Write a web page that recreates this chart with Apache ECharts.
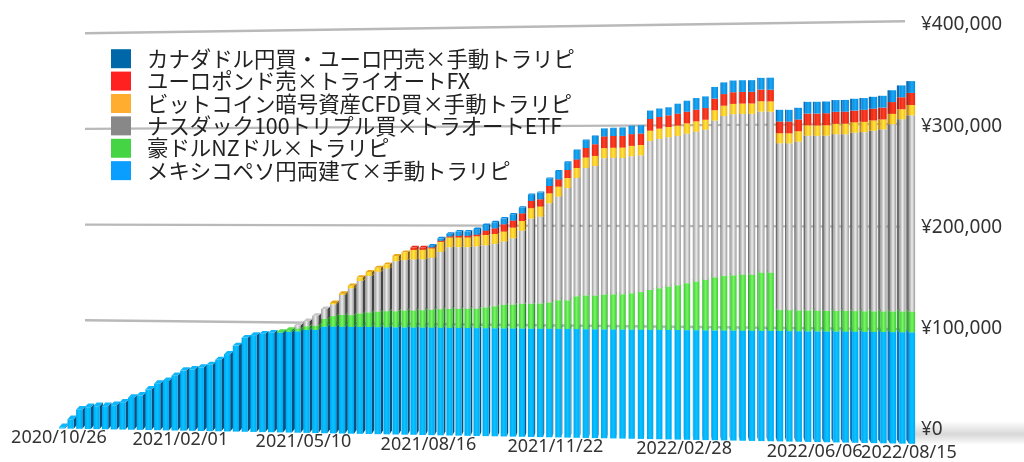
<!DOCTYPE html>
<html><head><meta charset="utf-8">
<style>html,body{margin:0;padding:0;background:#fff}#c{width:1024px;height:462px}</style>
<script src="https://cdn.jsdelivr.net/npm/echarts@6/dist/echarts.min.js"></script>
</head><body><div id="c"></div>
<script>
const categories = [
'2020/10/26','2020/11/02','2020/11/09','2020/11/16','2020/11/23','2020/11/30','2020/12/07','2020/12/14','2020/12/21','2020/12/28',
'2021/01/04','2021/01/11','2021/01/18','2021/01/25','2021/02/01','2021/02/08','2021/02/15','2021/02/22','2021/03/01','2021/03/08',
'2021/03/15','2021/03/22','2021/03/29','2021/04/05','2021/04/12','2021/04/19','2021/04/26','2021/05/03','2021/05/10','2021/05/17',
'2021/05/24','2021/05/31','2021/06/07','2021/06/14','2021/06/21','2021/06/28','2021/07/05','2021/07/12','2021/07/19','2021/07/26',
'2021/08/02','2021/08/09','2021/08/16','2021/08/23','2021/08/30','2021/09/06','2021/09/13','2021/09/20','2021/09/27','2021/10/04',
'2021/10/11','2021/10/18','2021/10/25','2021/11/01','2021/11/08','2021/11/15','2021/11/22','2021/11/29','2021/12/06','2021/12/13',
'2021/12/20','2021/12/27','2022/01/03','2022/01/10','2022/01/17','2022/01/24','2022/01/31','2022/02/07','2022/02/14','2022/02/21',
'2022/02/28','2022/03/07','2022/03/14','2022/03/21','2022/03/28','2022/04/04','2022/04/11','2022/04/18','2022/04/25','2022/05/02',
'2022/05/09','2022/05/16','2022/05/23','2022/05/30','2022/06/06','2022/06/13','2022/06/20','2022/06/27','2022/07/04','2022/07/11',
'2022/07/18','2022/07/25','2022/08/01','2022/08/08','2022/08/15'];
const tickDates = ['2020/10/26','2021/02/01','2021/05/10','2021/08/16','2021/11/22','2022/02/28','2022/06/06','2022/08/15'];
const yTicks = [100000,200000,300000,400000];
const mexico = [
1000,9500,19300,21900,23000,23200,24300,27100,32000,34500,
40600,46600,49500,54900,60100,61500,63400,66200,71400,77100,
85700,93500,96300,97800,98800,99000,100000,100500,102000,102200,
105500,105500,105500,105500,105500,105500,105500,105500,105500,105500,
105500,105500,105500,105500,105500,105500,105500,105500,105500,105500,
105500,105500,105500,105500,105500,105500,105500,105500,105500,105500,
105500,105500,105500,105500,105500,105500,105500,105500,105500,105500,
105500,105500,105500,105500,105500,105500,105500,105500,105500,105500,
105500,105500,105500,105500,105500,105500,105500,105500,105500,105500,
105500,105500,105500,105500,105500];
const audNzd = [
0,0,0,0,0,0,0,0,0,0,
0,0,0,0,0,0,0,0,0,0,
0,0,0,0,0,600,1700,2700,3700,4000,
7500,10500,11600,11600,13300,14300,15100,15800,15800,16600,
16700,17100,17500,18200,18450,18600,18750,18900,20300,21450,
22800,23200,23900,24000,24400,25400,27800,27800,31800,32500,
32500,33600,33900,34100,35100,36300,38400,40100,41600,43100,
45100,46700,48300,51000,52200,53000,53600,53700,55600,55600,
20000,20000,19800,19700,19700,19500,19600,19600,19600,19500,
19500,19500,19500,19500,19400];
const nasdaq = [
0,0,0,0,0,0,0,0,0,0,
0,0,0,0,0,0,0,0,0,0,
0,0,0,0,0,0,0,3300,4950,9900,
9900,11600,19800,26400,32100,36100,39400,42000,49200,49500,
50100,49800,51000,56200,60500,60400,60300,61000,60600,60800,
61800,64700,71400,83100,84600,96600,100700,109000,114800,123800,
125700,132100,132200,131800,132400,132000,143800,144000,144000,143800,
143900,144200,144400,150400,153500,154400,154000,153900,154100,153900,
159300,159200,161000,166700,166500,166900,168100,168000,169500,170000,
171300,172500,177400,182000,185800];
const bitcoin = [
0,0,0,0,0,0,0,0,0,0,
0,0,0,0,0,0,0,0,0,0,
0,0,0,0,0,0,0,0,0,0,
0,1300,1300,2600,3600,3900,3900,3900,5200,7600,
9400,9400,9200,9800,9500,9500,9500,9800,10100,9800,
9800,10400,9400,10100,9800,9700,9700,9700,9700,10100,
9700,9700,9700,10000,10000,10000,9900,9900,9900,9900,
9900,9900,9600,9900,9900,9900,9900,9900,9900,9900,
9600,9600,9900,9900,9900,9900,9900,10100,9800,9800,
9800,9500,9800,9500,9800];
const eurGbp = [
0,0,0,0,0,0,0,0,0,0,
0,0,0,0,0,0,0,0,0,0,
0,0,0,0,0,0,0,0,0,0,
0,0,0,0,0,0,0,0,0,0,
2300,2300,1000,1000,1000,1600,1600,1600,4200,5500,
7100,6800,7400,7100,7100,7100,7000,7800,8200,9200,
11300,11300,11300,11300,11300,11000,11200,11200,11200,11500,
11200,11200,11200,11200,11200,11200,11200,11200,11200,11200,
11200,11200,11200,11200,11400,11400,11400,11400,11200,11400,
11200,11200,11200,11400,11400];
const cadEur = [
0,0,0,0,0,0,0,0,0,0,
0,0,0,0,0,0,0,0,0,0,
0,0,0,0,0,0,0,0,0,0,
0,0,0,0,0,0,0,0,0,0,
0,0,1600,2400,2600,4200,4200,5500,5500,5900,
5800,6200,5800,6100,6500,7400,8200,7700,9200,7700,
8100,7700,7700,7700,8000,8000,8000,8000,7700,9600,
10600,11200,11200,11200,11200,11200,11200,11200,11200,11500,
11200,11200,11200,11200,11200,11200,11200,11200,11200,11200,
11200,11200,11200,11200,11200];
const seriesNames = ['メキシコペソ円両建て×手動トラリピ','豪ドルNZドル×トラリピ','ナスダック100トリプル買×トラオートETF','ビットコイン暗号資産CFD買×手動トラリピ','ユーロポンド売×トライオートFX','カナダドル円買・ユーロ円売×手動トラリピ'];
const seriesValues = [mexico,audNzd,nasdaq,bitcoin,eurGbp,cadEur];
const legendColors = ['#0a9fff','#44d444','#888888','#ffad2f','#ff2020','#0068a8'];
const markStyles = [
 {edge:'#00a6f4',mid:'#08c4ff',side:'#04507e',sideR:'#0874c0',cap:'#10b6fa'},
 {edge:'#40c83c',mid:'#78f860',side:'#2b7a2b',sideR:'#3c9e38',cap:'#58de48'},
 {edge:'#9a9a9a',mid:'#ececec',side:'#444444',sideR:'#6c6c6c',cap:'#c4c4c4'},
 {edge:'#f0b41c',mid:'#ffe63c',side:'#7d5c10',sideR:'#c08c18',cap:'#e8a61a'},
 {edge:'#e42414',mid:'#ff3e22',side:'#8a1a10',sideR:'#b42414',cap:'#e82818'},
 {edge:'#0a86dc',mid:'#18aaf4',side:'#0a4a7a',sideR:'#0a6cb4',cap:'#0a8ade'}
];

const GL=62, GR=912, GT=25, GB=430, YMAX=400000;
function warpX(px){const t=(px-GL)/(GR-GL);return GL+(GR-GL)*(0.951*t+0.049*t*t);}
function valOf(py){return (GB-py)/(GB-GT)*YMAX;}
function barY(x,v){return 428.5+0.018*(x-GL)-v*(0.00099+7.9e-8*(x-GL));}
function wallY(x,v){const k=(x-85)/820;return 416+16*k-v*(0.000957+0.00007*k);}
function depth(x,y){return [x<660?Math.min(3.3,(660-x)*0.0085):(660-x)*0.0105,-(Math.max(0,y-100))*0.012];}

function barRender(idx){
 const m=markStyles[idx];
 return function(params,api){
  const w=api.value(0),lo=api.value(1),hi=api.value(2);
  if(hi<=lo) return null;
  const p0=api.coord([w,lo]),p1=api.coord([w,hi]);
  const x=warpX(p0[0]);
  const yB=barY(x,valOf(p0[1])),yT=barY(x,valOf(p1[1]));
  const fw=6.2,xl=x-fw/2,xr=x+fw/2;
  const dT=depth(x,yT),dB=depth(x,yB);
  const ex=dT[0]>=0?xr:xl;
  const grad=new echarts.graphic.LinearGradient(0,0,1,0,[{offset:0,color:m.edge},{offset:0.5,color:m.mid},{offset:1,color:m.edge}]);
  return {type:'group',children:[
   {type:'polygon',shape:{points:[[ex,yT],[ex,yB],[ex+dB[0],yB+dB[1]],[ex+dT[0],yT+dT[1]]]},style:{fill:dT[0]>=0?m.side:m.sideR}},
   {type:'polygon',shape:{points:[[xl,yT],[xr,yT],[xr+dT[0],yT+dT[1]],[xl+dT[0],yT+dT[1]]]},style:{fill:m.cap}},
   {type:'rect',shape:{x:xl,y:yT,width:fw,height:yB-yT},style:{fill:grad}}
  ]};
 };
}
let cum=categories.map(()=>0);
const barSeries=seriesValues.map((vals,i)=>{
 const data=vals.map((v,w)=>{const lo=cum[w];cum[w]+=v;return [w,lo,cum[w]];});
 return {name:seriesNames[i],type:'custom',coordinateSystem:'cartesian2d',clip:false,z:3+i,
  itemStyle:{color:legendColors[i]},encode:{x:0,y:[1,2]},data,renderItem:barRender(i)};
});
const gridSeries={name:'grid',type:'custom',silent:true,z:1,clip:false,encode:{x:0,y:1},
 data:yTicks.map(v=>[0,v]),
 renderItem(params,api){
  const v=valOf(api.coord([0,api.value(1)])[1]);
  const a=85,b=905;
  return {type:'line',shape:{x1:a,y1:wallY(a,v),x2:b,y2:wallY(b,v)},style:{stroke:'#b9b9b9',lineWidth:2.4}};
 }};
const labelSeries={name:'ticks',type:'custom',silent:true,z:20,clip:false,encode:{x:0,y:1},
 data:tickDates.map(d=>[categories.indexOf(d),0]),
 renderItem(params,api){
  const w=api.value(0),x=warpX(api.coord([w,0])[0])-3;
  return {type:'text',style:{text:categories[w],x:x,y:438+(x-60)*0.0179,fill:'#333',font:'18px "Noto Sans"',align:'center',verticalAlign:'middle'}};
 }};
const chart=echarts.init(document.getElementById('c'),null,{renderer:'canvas'});
chart.setOption({
 animation:false,backgroundColor:'#fff',
 grid:{left:GL,right:1024-GR,top:GT,bottom:462-GB,containLabel:false},
 legend:{orient:'vertical',left:106,top:43,itemWidth:20,itemHeight:19,itemGap:1,icon:'rect',selectedMode:false,
  data:seriesNames.slice().reverse(),
  textStyle:{fontFamily:'"Noto Sans CJK JP"',fontSize:21.4,color:'#222',padding:[0,0,0,11]}},
 xAxis:{type:'category',data:categories,boundaryGap:false,axisLine:{show:false},axisTick:{show:false},axisLabel:{show:false},splitLine:{show:false}},
 yAxis:{type:'value',position:'right',min:0,max:YMAX,interval:100000,axisLine:{show:false},axisTick:{show:false},splitLine:{show:false},
  axisLabel:{margin:9,color:'#333',fontFamily:'"Noto Sans"',fontSize:19,formatter:v=>'¥'+v.toLocaleString('en-US')}},
 graphic:[{type:'rect',z:0,silent:true,shape:{x:914,y:421,width:110,height:24},
  style:{fill:new echarts.graphic.LinearGradient(0,0,0,1,[{offset:0,color:'rgba(190,190,190,0)'},{offset:0.55,color:'rgba(190,190,190,0.6)'},{offset:1,color:'rgba(190,190,190,0)'}])}}],
 series:[gridSeries].concat(barSeries,[labelSeries])
});
</script></body></html>
